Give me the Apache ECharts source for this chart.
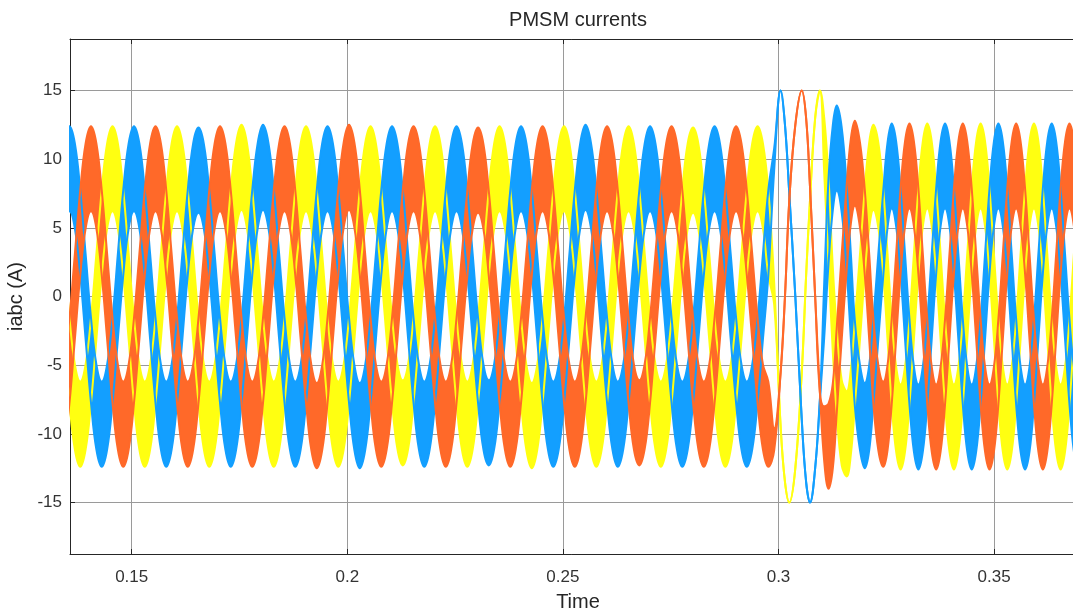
<!DOCTYPE html>
<html>
<head>
<meta charset="utf-8">
<title>PMSM currents</title>
<script src="https://cdn.jsdelivr.net/npm/echarts@6/dist/echarts.min.js"></script>
<style>
  html, body { margin: 0; padding: 0; background: #ffffff; }
  #chart { width: 1073px; height: 610px; }
</style>
</head>
<body>
<div id="chart"></div>
<script>
// Sample instants (s). Steady state every 30 deg of the 66.8 Hz electrical cycle,
// hand-placed points through the 0.3 s transient, then the faster post-transient cycle.
const time = [
  0.13433,
  0.13557, 0.13682, 0.13807, 0.13931, 0.14056, 0.14181, 0.14305, 0.14430, 0.14555, 0.14679, 0.14804, 0.14929,
  0.15053, 0.15178, 0.15303, 0.15427, 0.15552, 0.15677, 0.15801, 0.15926, 0.16051, 0.16175, 0.16300, 0.16425,
  0.16549, 0.16674, 0.16799, 0.16923, 0.17048, 0.17173, 0.17297, 0.17422, 0.17547, 0.17671, 0.17796, 0.17921,
  0.18045, 0.18170, 0.18295, 0.18419, 0.18544, 0.18669, 0.18793, 0.18918, 0.19043, 0.19167, 0.19292, 0.19417,
  0.19541, 0.19666, 0.19791, 0.19915, 0.20040, 0.20165, 0.20289, 0.20414, 0.20539, 0.20663, 0.20788, 0.20913,
  0.21037, 0.21162, 0.21287, 0.21411, 0.21536, 0.21661, 0.21785, 0.21910, 0.22035, 0.22159, 0.22284, 0.22409,
  0.22533, 0.22658, 0.22783, 0.22907, 0.23032, 0.23157, 0.23281, 0.23406, 0.23531, 0.23655, 0.23780, 0.23905,
  0.24029, 0.24154, 0.24279, 0.24403, 0.24528, 0.24653, 0.24777, 0.24902, 0.25027, 0.25151, 0.25276, 0.25401,
  0.25525, 0.25650, 0.25775, 0.25899, 0.26024, 0.26149, 0.26273, 0.26398, 0.26523, 0.26647, 0.26772, 0.26897,
  0.27021, 0.27146, 0.27271, 0.27395, 0.27520, 0.27645, 0.27769, 0.27894, 0.28019, 0.28143, 0.28268, 0.28393,
  0.28517, 0.28642, 0.28767, 0.28891, 0.29016, 0.29141, 0.29265, 0.29390, 0.29515, 0.29639, 0.29764,
  0.29900, 0.30050, 0.30150, 0.30250, 0.30390, 0.30540, 0.30640, 0.30730, 0.30850, 0.30960, 0.31060, 0.31160, 0.31260,
  0.31350, 0.31466, 0.31580, 0.31678, 0.31770, 0.31890, 0.32000, 0.32103, 0.32200, 0.32315, 0.32430, 0.32528,
  0.32625, 0.32728, 0.32831, 0.32934, 0.33037, 0.33140, 0.33244, 0.33347, 0.33450, 0.33553, 0.33656, 0.33759,
  0.33862, 0.33965, 0.34068, 0.34171, 0.34274, 0.34377, 0.34481, 0.34584, 0.34687, 0.34790, 0.34893, 0.34996,
  0.35099, 0.35202, 0.35305, 0.35408, 0.35511, 0.35614, 0.35718, 0.35821, 0.35924, 0.36027, 0.36130, 0.36233,
  0.36336, 0.36439, 0.36542, 0.36645, 0.36748, 0.36851, 0.36955, 0.37058, 0.37161, 0.37264, 0.37367
];

// Phase currents (A), mid-line of each trace
const iBlue = [
  8.05,
  9.3, 8.05, 4.65, 0, -4.65, -8.05, -9.3, -8.05, -4.65, 0, 4.65, 8.05,
  9.3, 8.05, 4.65, 0, -4.65, -8.05, -9.3, -8.05, -4.65, 0, 4.65, 8.05,
  9.2, 8.0, 4.6, 0, -4.65, -8.05, -9.3, -8.05, -4.65, 0, 4.65, 8.05,
  9.4, 8.1, 4.7, 0, -4.65, -8.05, -9.3, -8.05, -4.65, 0, 4.65, 8.05,
  9.3, 8.05, 4.65, 0, -4.65, -8.1, -9.4, -8.1, -4.65, 0, 4.65, 8.05,
  9.3, 8.05, 4.65, 0, -4.65, -8.05, -9.3, -8.05, -4.65, 0, 4.65, 8.05,
  9.3, 8.05, 4.65, 0, -4.65, -8.05, -9.2, -8.0, -4.6, 0, 4.65, 8.05,
  9.3, 8.05, 4.65, 0, -4.65, -8.05, -9.3, -8.05, -4.65, 0, 4.65, 8.05,
  9.4, 8.1, 4.7, 0, -4.65, -8.05, -9.3, -8.05, -4.65, 0, 4.65, 8.05,
  9.3, 8.05, 4.65, 0, -4.65, -8.05, -9.3, -8.05, -4.65, 0, 4.65, 8.05,
  9.3, 8.05, 4.65, 0, -4.65, -8.05, -9.3, -8.05, -4.65, 0, 4.65,
  10.0, 15.0, 12.5, 7.5, 0.0, -9.0, -13.5, -15.0, -12.5, -7.5, -1.0, 5.5, 9.4,
  10.8, 9.2, 5.0, 0.0, -4.85, -8.1, -9.4, -8.1, -4.7, 0.0, 4.65, 8.1,
  9.5, 8.2, 4.75, 0, -4.75, -8.2, -9.5, -8.2, -4.75, 0, 4.75, 8.2,
  9.5, 8.2, 4.75, 0, -4.75, -8.2, -9.5, -8.2, -4.75, 0, 4.75, 8.2,
  9.5, 8.2, 4.75, 0, -4.75, -8.2, -9.5, -8.2, -4.75, 0, 4.75, 8.2,
  9.5, 8.2, 4.75, 0, -4.75, -8.2, -9.5, -8.2, -4.75, 0, 4.75
];

const iOrange = [
  -8.05,
  -4.65, 0, 4.65, 8.05, 9.3, 8.05, 4.65, 0, -4.65, -8.05, -9.3, -8.05,
  -4.65, 0, 4.65, 8.05, 9.3, 8.05, 4.65, 0, -4.65, -8.05, -9.3, -8.05,
  -4.65, 0, 4.65, 8.05, 9.3, 8.05, 4.65, 0, -4.65, -8.05, -9.3, -8.05,
  -4.65, 0, 4.65, 8.05, 9.3, 8.05, 4.65, 0, -4.65, -8.1, -9.4, -8.1,
  -4.65, 0, 4.7, 8.1, 9.4, 8.1, 4.7, 0, -4.65, -8.05, -9.3, -8.05,
  -4.65, 0, 4.65, 8.05, 9.3, 8.05, 4.65, 0, -4.65, -8.05, -9.3, -8.05,
  -4.65, 0, 4.6, 8.0, 9.2, 8.0, 4.6, 0, -4.65, -8.05, -9.3, -8.05,
  -4.65, 0, 4.65, 8.05, 9.3, 8.05, 4.65, 0, -4.65, -8.05, -9.3, -8.05,
  -4.65, 0, 4.65, 8.05, 9.3, 8.05, 4.65, 0, -4.65, -8.05, -9.2, -8.0,
  -4.65, 0, 4.65, 8.05, 9.3, 8.05, 4.65, 0, -4.65, -8.05, -9.3, -8.05,
  -4.65, 0, 4.65, 8.05, 9.3, 8.05, 4.65, 0, -4.65, -8.05, -9.3,
  -10.4, -5.5, 0.0, 7.0, 12.5, 15.0, 13.0, 8.0, 0.0, -7.0, -10.0, -10.9, -9.4,
  -5.4, 0.0, 5.0, 8.4, 9.7, 8.1, 4.7, 0.0, -4.7, -8.1, -9.3, -8.1,
  -4.75, 0, 4.75, 8.2, 9.5, 8.2, 4.75, 0, -4.75, -8.2, -9.5, -8.2,
  -4.75, 0, 4.75, 8.2, 9.5, 8.2, 4.75, 0, -4.75, -8.2, -9.5, -8.2,
  -4.75, 0, 4.75, 8.2, 9.5, 8.2, 4.75, 0, -4.75, -8.2, -9.5, -8.2,
  -4.75, 0, 4.75, 8.2, 9.5, 8.2, 4.75, 0, -4.75, -8.2, -9.5
];

const iYellow = [
  0,
  -4.65, -8.05, -9.3, -8.05, -4.65, 0, 4.65, 8.05, 9.3, 8.05, 4.65, 0,
  -4.65, -8.05, -9.3, -8.05, -4.65, 0, 4.65, 8.05, 9.3, 8.05, 4.65, 0,
  -4.65, -8.05, -9.3, -8.05, -4.65, 0, 4.65, 8.1, 9.4, 8.1, 4.65, 0,
  -4.65, -8.05, -9.3, -8.05, -4.65, 0, 4.65, 8.05, 9.3, 8.05, 4.65, 0,
  -4.65, -8.05, -9.3, -8.05, -4.65, 0, 4.65, 8.05, 9.3, 8.05, 4.65, 0,
  -4.6, -8.0, -9.2, -8.0, -4.6, 0, 4.65, 8.05, 9.3, 8.05, 4.65, 0,
  -4.65, -8.05, -9.3, -8.05, -4.65, 0, 4.65, 8.05, 9.3, 8.05, 4.65, 0,
  -4.65, -8.1, -9.4, -8.1, -4.65, 0, 4.65, 8.05, 9.3, 8.05, 4.65, 0,
  -4.65, -8.05, -9.3, -8.05, -4.65, 0, 4.65, 8.05, 9.3, 8.05, 4.65, 0,
  -4.65, -8.05, -9.3, -8.05, -4.65, 0, 4.65, 8.05, 9.2, 8.0, 4.65, 0,
  -4.65, -8.05, -9.3, -8.05, -4.65, 0, 4.65, 8.05, 9.3, 8.05, 4.65,
  0.2, -9.5, -13.5, -15.0, -12.5, -5.5, 1.5, 7.0, 13.0, 15.0, 11.0, 5.5, -1.0,
  -5.4, -9.2, -10.0, -8.4, -4.85, 0.0, 4.7, 8.1, 9.4, 8.1, 4.65, 0.0,
  -4.75, -8.2, -9.5, -8.2, -4.75, 0, 4.75, 8.2, 9.5, 8.2, 4.75, 0,
  -4.75, -8.2, -9.5, -8.2, -4.75, 0, 4.75, 8.2, 9.5, 8.2, 4.75, 0,
  -4.75, -8.2, -9.5, -8.2, -4.75, 0, 4.75, 8.2, 9.5, 8.2, 4.75, 0,
  -4.75, -8.2, -9.5, -8.2, -4.75, 0, 4.75, 8.2, 9.5, 8.2, 4.75
];

// Half-height (A) of the inverter switching-ripple band, as [sample count, value] runs.
// The ripple disappears during the large clean cycle right after t = 0.3 s.
const rippleRuns = [[132, 3.1], [1, 0.8], [9, 0], [1, 2.0], [61, 3.1]];

const yTicks = [-15, -10, -5, 0, 5, 10, 15];

const X_MIN = 0.13569, X_MAX = 0.37131;
const Y_MIN = -18.75, Y_MAX = 18.75;

const ripple = [];
rippleRuns.forEach(([n, v]) => { for (let k = 0; k < n; k++) ripple.push(v); });
[iBlue, iOrange, iYellow, ripple].forEach(a => {
  if (a.length !== time.length) console.warn('length mismatch', a.length, time.length);
});

const FONT = '"Liberation Sans", Arial, Helvetica, sans-serif';
const INK = '#262626';
const GRID = '#9a9a9a';

// One phase = lower ripple edge + stacked band of height 2*ripple, filled.
function phaseSeries(name, values, color) {
  const lower = values.map((v, i) => [v - ripple[i], time[i]]);
  const band = values.map((v, i) => [2 * ripple[i], time[i]]);
  const base = {
    type: 'line',
    stack: name,
    stackStrategy: 'all',
    encode: { x: 1, y: 0 },
    symbol: 'none',
    smooth: 0.4,
    silent: true,
    emphasis: { disabled: true },
    lineStyle: { color: color, width: 2 }
  };
  return [
    Object.assign({}, base, { name: name, data: lower }),
    Object.assign({}, base, { name: name, data: band, areaStyle: { color: color, opacity: 1 } })
  ];
}

const chart = echarts.init(document.getElementById('chart'), null, { renderer: 'canvas' });

const frameLine = { show: true, onZero: false, lineStyle: { color: INK, width: 1 } };
const innerTick = { show: true, inside: true, length: 5, lineStyle: { color: INK, width: 1 } };

chart.setOption({
  animation: false,
  backgroundColor: '#ffffff',
  title: {
    text: 'PMSM currents',
    left: 578,
    top: 10,
    padding: 0,
    textAlign: 'center',
    textStyle: { fontFamily: FONT, fontSize: 20, fontWeight: 'normal', color: INK }
  },
  // The plot frame runs past the right edge of the canvas, so its right border is not seen.
  grid: { left: 70, top: 39, width: 1016, height: 515, containLabel: false, outerBoundsMode: 'none' },
  xAxis: [
    {
      type: 'value',
      position: 'bottom',
      min: X_MIN, max: X_MAX,
      minInterval: 0.05, maxInterval: 0.05,
      name: 'Time',
      nameLocation: 'middle',
      nameGap: 38,
      nameTextStyle: { fontFamily: FONT, fontSize: 20, color: INK },
      axisLine: frameLine,
      axisTick: innerTick,
      axisLabel: { fontFamily: FONT, fontSize: 17, color: '#333333', margin: 15, showMinLabel: false, showMaxLabel: false },
      splitLine: { show: true, lineStyle: { color: GRID, width: 1 } }
    },
    {
      type: 'value',
      position: 'top',
      min: X_MIN, max: X_MAX,
      minInterval: 0.05, maxInterval: 0.05,
      axisLine: frameLine,
      axisTick: innerTick,
      axisLabel: { show: false },
      splitLine: { show: false }
    }
  ],
  yAxis: {
    type: 'value',
    min: Y_MIN, max: Y_MAX,
    minInterval: 5, maxInterval: 5,
    name: 'iabc (A)',
    nameLocation: 'middle',
    nameRotate: 90,
    nameGap: 43,
    nameTextStyle: { fontFamily: FONT, fontSize: 20, color: INK },
    axisLine: frameLine,
    axisTick: innerTick,
    axisLabel: {
      fontFamily: FONT, fontSize: 17, color: '#333333', margin: 8,
      showMinLabel: false, showMaxLabel: false,
      formatter: v => (yTicks.indexOf(v) >= 0 ? String(v) : '')
    },
    splitLine: { show: true, lineStyle: { color: GRID, width: 1 } }
  },
  series: [].concat(
    phaseSeries('ia', iYellow, '#ffff11'),
    phaseSeries('ib', iBlue, '#139fff'),
    phaseSeries('ic', iOrange, '#ff6929')
  )
});
</script>
</body>
</html>
